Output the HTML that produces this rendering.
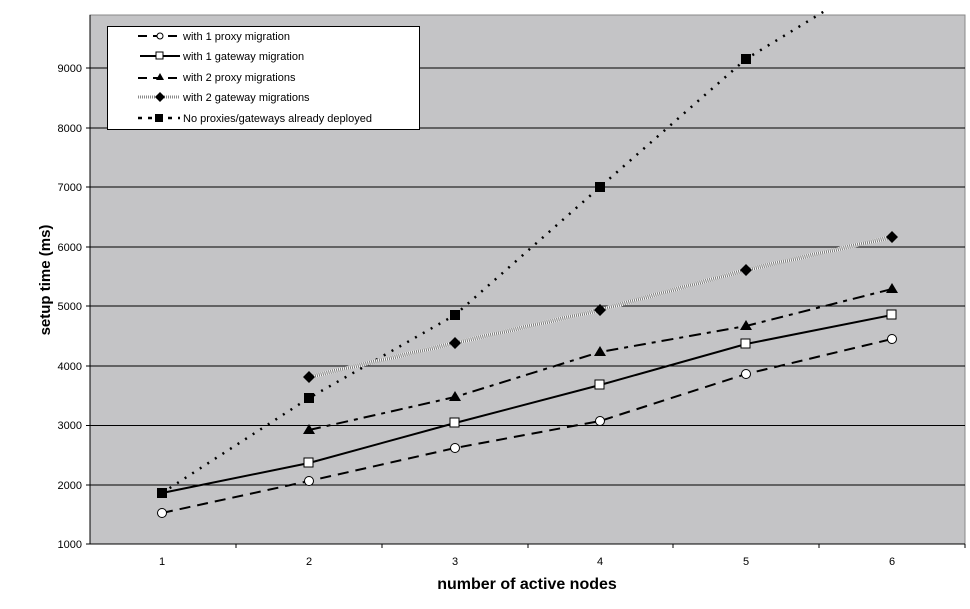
<!DOCTYPE html>
<html><head><meta charset="utf-8"><style>
html,body{margin:0;padding:0;background:#fff;}
svg text{font-family:"Liberation Sans",Arial,sans-serif;}
</style></head><body>
<svg width="970" height="604" viewBox="0 0 970 604" xmlns="http://www.w3.org/2000/svg">
<defs><clipPath id="c"><rect x="90" y="11" width="876" height="534"/></clipPath></defs>
<rect x="90" y="15" width="875" height="529" fill="#c4c4c6" stroke="#888" stroke-width="1"/>
<g stroke="#000" stroke-width="1">
<line x1="90" y1="485" x2="965" y2="485"/>
<line x1="90" y1="425.5" x2="965" y2="425.5"/>
<line x1="90" y1="366" x2="965" y2="366"/>
<line x1="90" y1="306" x2="965" y2="306"/>
<line x1="90" y1="247" x2="965" y2="247"/>
<line x1="90" y1="187" x2="965" y2="187"/>
<line x1="90" y1="128" x2="965" y2="128"/>
<line x1="90" y1="68" x2="965" y2="68"/>
<line x1="90" y1="15" x2="90" y2="544"/>
<line x1="90" y1="544" x2="965" y2="544"/>
<line x1="86" y1="544" x2="90" y2="544"/><line x1="86" y1="485" x2="90" y2="485"/><line x1="86" y1="425.5" x2="90" y2="425.5"/><line x1="86" y1="366" x2="90" y2="366"/><line x1="86" y1="306" x2="90" y2="306"/><line x1="86" y1="247" x2="90" y2="247"/><line x1="86" y1="187" x2="90" y2="187"/><line x1="86" y1="128" x2="90" y2="128"/><line x1="86" y1="68" x2="90" y2="68"/>
<line x1="236" y1="544" x2="236" y2="548"/><line x1="382" y1="544" x2="382" y2="548"/><line x1="528" y1="544" x2="528" y2="548"/><line x1="673" y1="544" x2="673" y2="548"/><line x1="819" y1="544" x2="819" y2="548"/><line x1="965" y1="544" x2="965" y2="548"/>
</g>
<g font-size="11" text-anchor="end" fill="#000">
<text x="82" y="548">1000</text><text x="82" y="489">2000</text><text x="82" y="429">3000</text><text x="82" y="370">4000</text><text x="82" y="310">5000</text><text x="82" y="251">6000</text><text x="82" y="191">7000</text><text x="82" y="132">8000</text><text x="82" y="72">9000</text>
</g>
<g font-size="11" text-anchor="middle">
<text x="162" y="565">1</text><text x="309" y="565">2</text><text x="455" y="565">3</text><text x="600" y="565">4</text><text x="746" y="565">5</text><text x="892" y="565">6</text>
</g>
<text x="527" y="589" font-size="16" font-weight="bold" text-anchor="middle">number of active nodes</text>
<text transform="translate(50,280) rotate(-90)" font-size="15" font-weight="bold" text-anchor="middle">setup time (ms)</text>
<g clip-path="url(#c)" fill="none">
<polyline points="162,493 309,398 455,315 600,187 746,59 892,-30" stroke="#000" stroke-width="2.5" stroke-dasharray="2,7"/>
<polyline points="309,377 455,343 600,310 746,270 892,237" stroke="#fff" stroke-width="4"/>
<polyline points="309,377 455,343 600,310 746,270 892,237" stroke="#777" stroke-width="4" stroke-dasharray="1,1"/>
<polyline points="309,430 455,397 600,352 746,326 892,289" stroke="#000" stroke-width="2" stroke-dasharray="12,6,4,6"/>
<polyline points="162,493 309,463 455,423 600,385 746,344 892,315" stroke="#000" stroke-width="2"/>
<polyline points="162,513 309,481 455,448 600,421 746,374 892,339" stroke="#000" stroke-width="2" stroke-dasharray="11,7"/>
</g>
<g fill="#000">
<rect x="157" y="488" width="10" height="10"/><rect x="304" y="393" width="10" height="10"/><rect x="450" y="310" width="10" height="10"/><rect x="595" y="182" width="10" height="10"/><rect x="741" y="54" width="10" height="10"/>
<path d="M309,371 l6,6 -6,6 -6,-6z M455,337 l6,6 -6,6 -6,-6z M600,304 l6,6 -6,6 -6,-6z M746,264 l6,6 -6,6 -6,-6z M892,231 l6,6 -6,6 -6,-6z"/>
<path d="M309,424 l6,10 -12,0z M455,391 l6,10 -12,0z M600,346 l6,10 -12,0z M746,320 l6,10 -12,0z M892,283 l6,10 -12,0z"/>
</g>
<g fill="#fff" stroke="#000" stroke-width="1">
<rect x="304" y="458" width="9" height="9"/><rect x="450" y="418" width="9" height="9"/><rect x="595" y="380" width="9" height="9"/><rect x="741" y="339" width="9" height="9"/><rect x="887" y="310" width="9" height="9"/>
<circle cx="162" cy="513" r="4.5"/><circle cx="309" cy="481" r="4.5"/><circle cx="455" cy="448" r="4.5"/><circle cx="600" cy="421" r="4.5"/><circle cx="746" cy="374" r="4.5"/><circle cx="892" cy="339" r="4.5"/>
</g>
<rect x="107.5" y="26.5" width="312" height="103" fill="#fff" stroke="#000"/>
<g font-size="11" fill="#000">
<line x1="138" y1="36" x2="180" y2="36" stroke="#000" stroke-width="2" stroke-dasharray="9,6"/><circle cx="160" cy="36" r="3" fill="#fff" stroke="#000"/><text x="183" y="40">with 1 proxy migration</text>
<line x1="140" y1="56" x2="180" y2="56" stroke="#000" stroke-width="2"/><rect x="156" y="52" width="7" height="7" fill="#fff" stroke="#000"/><text x="183" y="60">with 1 gateway migration</text>
<line x1="138" y1="78" x2="180" y2="78" stroke="#000" stroke-width="2" stroke-dasharray="9,6"/><path d="M160,73 l4,7 -8,0z"/><text x="183" y="81">with 2 proxy migrations</text>
<line x1="138" y1="97" x2="180" y2="97" stroke="#888" stroke-width="3" stroke-dasharray="1,1"/><path d="M160,92 l5,5 -5,5 -5,-5z"/><text x="183" y="101">with 2 gateway migrations</text>
<line x1="138" y1="118" x2="180" y2="118" stroke="#000" stroke-width="2.5" stroke-dasharray="4,6"/><rect x="155" y="114" width="8" height="8"/><text x="183" y="122">No proxies/gateways already deployed</text>
</g>
</svg>
</body></html>
